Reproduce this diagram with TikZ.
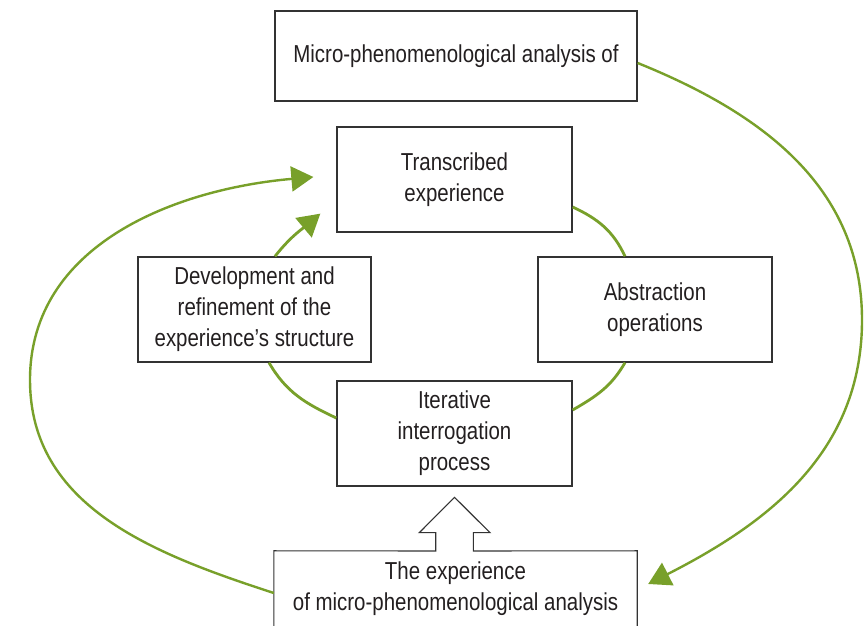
\documentclass[tikz,border=0pt]{standalone}
\usepackage{fontspec}
\setmainfont{Liberation Sans}[FakeStretch=0.835]
\usetikzlibrary{arrows.meta}
\definecolor{grn}{HTML}{78A02A}
\definecolor{txt}{HTML}{231F20}
\definecolor{brd}{HTML}{333333}
\begin{document}
\begin{tikzpicture}[x=1pt,y=1pt,
  box/.style={draw=brd, line width=1.3pt, fill=white, text=txt, align=center,
    inner sep=0pt, font=\fontsize{24.5pt}{31pt}\selectfont},
  plain/.style={text=txt, align=center, inner sep=0pt, font=\fontsize{24.5pt}{31pt}\selectfont},
  conn/.style={draw=grn, line width=2.8pt},
  arr/.style={conn, -{Triangle[length=22pt,width=25pt]}},
  outline/.style={draw=brd, line width=1.1pt},
]
\useasboundingbox (0,0) rectangle (865,626);
\clip (0,0) rectangle (865,626);
\fill[white] (0,0) rectangle (865,626);

% nodes
\node[box, minimum width=362pt, minimum height=90pt] (top) at (456,570) {Micro-phenomenological analysis of};
\node[box, minimum width=235pt, minimum height=105pt] (trans) at (454.5,446.5) {Transcribed\\experience};
\node[box, minimum width=233pt, minimum height=105pt] (dev) at (254.5,316.5) {Development and\\refinement of the\\experience’s structure};
\node[box, minimum width=234pt, minimum height=105pt] (abs) at (655,316.5) {Abstraction\\operations};
\node[box, minimum width=235pt, minimum height=105pt] (iter) at (454.5,192.5) {Iterative\\interrogation\\process};
\node[plain, minimum width=363pt, minimum height=75pt] (bot) at (455.5,37.5) {The experience\\of micro-phenomenological analysis};

% bottom box outline with hollow arrow
\draw[outline] ([yshift=-20pt]bot.south west) -- (bot.north west) -- (435.7,75) -- (435.7,93.3)
  -- (419.3,93.3) -- (454.5,128.7) -- (490,93.3) -- (473.3,93.3) -- (473.3,75)
  -- (bot.north east) -- ([yshift=-20pt]bot.south east);

% way points
\coordinate (lw) at (30,246);
\coordinate (re) at (862,306);
\coordinate (t1) at ([xshift=-23pt,yshift=2.5pt]trans.west);
\coordinate (t2) at ([xshift=-16pt,yshift=19pt]trans.south west);
\coordinate (b1) at ([xshift=11pt,yshift=4.5pt]bot.east);

% inner cycle
\draw[arr] ([xshift=20.5pt]dev.north) to[out=52,in=220] (t2);
\draw[conn] ([yshift=-27.5pt]trans.east) to[out=-25,in=115] ([xshift=-30pt]abs.north);
\draw[conn] ([yshift=23.5pt]iter.east) to[out=30,in=-120] ([xshift=-30pt]abs.south);
\draw[conn] ([xshift=14.5pt]dev.south) to[out=-60,in=155] ([yshift=15.5pt]iter.west);

% outer loops
\draw[arr, line width=2.4pt] ([yshift=-4.5pt]bot.west) to[out=162,in=-90] (lw) to[out=90,in=185] (t1);
\draw[arr, line width=2.4pt] ([yshift=-7pt]top.east) to[out=-22,in=90] (re) to[out=-90,in=27] (b1);
\end{tikzpicture}
\end{document}
